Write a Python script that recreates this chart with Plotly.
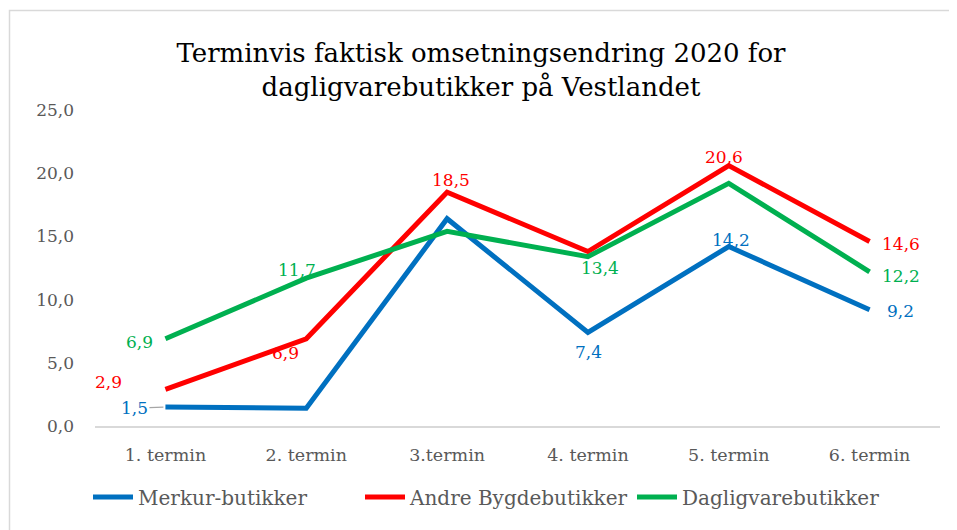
import plotly.graph_objects as go

categories = ["1. termin", "2. termin", "3.termin", "4. termin", "5. termin", "6. termin"]
merkur = [1.5, 1.4, 16.4, 7.4, 14.2, 9.2]
andre = [2.9, 6.9, 18.5, 13.8, 20.6, 14.6]
dagligvare = [6.9, 11.7, 15.4, 13.4, 19.2, 12.2]
series_names = ["Merkur-butikker", "Andre Bygdebutikker", "Dagligvarebutikker"]
title_text = "Terminvis faktisk omsetningsendring 2020 for<br>dagligvarebutikker på Vestlandet"

colors = ["#0070C0", "#FF0000", "#00B050"]
# label offsets in pixels (dx, dy-up); None = no label
label_offsets = [
    ["leader", None, None, (1, -20), (2, 7), (31, -1)],
    [(-57, 7), (-21, -14), (4, 12), None, (-5, 9), (31, -3)],
    [(-26, -3), (-9, 8), None, (12, -11), None, (31, -4)],
]

FONT = "DejaVu Serif"
PAGE_OFF = 8  # body margin of the host page
fig = go.Figure()
annotations = []
for name, vals, col, offs in zip(series_names, [merkur, andre, dagligvare], colors, label_offsets):
    fig.add_trace(go.Scatter(x=categories, y=vals, name=name, mode="lines",
                             line=dict(color=col, width=5)))
    for i, (c, v, o) in enumerate(zip(categories, vals, offs)):
        if o is None:
            continue
        txt = f"{v:.1f}".replace(".", ",")
        if o == "leader":
            annotations.append(dict(x=c, y=v, xref="x", yref="y", text=txt, showarrow=True,
                                    ax=-31, ay=1, arrowhead=0, arrowwidth=1.2, arrowcolor="#A6A6A6",
                                    standoff=2, font=dict(family=FONT, size=17, color=col)))
        else:
            annotations.append(dict(x=c, y=v, xref="x", yref="y", text=txt, showarrow=False,
                                    xshift=o[0], yshift=o[1],
                                    font=dict(family=FONT, size=17, color=col)))

W, H = 957 - PAGE_OFF, 530 - PAGE_OFF
L, T = 95 - PAGE_OFF, 110 - PAGE_OFF
PW, PH = 845, 316
fig.update_layout(
    width=W, height=H,
    margin=dict(l=L, r=W - L - PW, t=T, b=H - T - PH),
    paper_bgcolor="white", plot_bgcolor="white",
    separators=",.",
    title=dict(text=title_text, x=(481 - PAGE_OFF) / W, xref="container", xanchor="center",
               y=1 - (62 - PAGE_OFF) / H, yref="container", yanchor="top",
               font=dict(family=FONT, size=26, color="#000000")),
    xaxis=dict(type="category", range=[-0.5, 5.5], showline=True, linecolor="#D9D9D9", linewidth=1.5,
               showgrid=False, ticks="", ticklabelstandoff=12,
               tickfont=dict(family=FONT, size=17.5, color="#595959")),
    yaxis=dict(range=[0, 25], dtick=5, tickformat=".1f", showgrid=False, zeroline=False,
               showline=False, ticks="", ticklabelstandoff=20,
               tickfont=dict(family=FONT, size=17, color="#595959")),
    legend=dict(orientation="h", x=(88 - 95) / PW, xanchor="left",
                y=-(497 - 426) / PH, yanchor="middle", entrywidth=217, entrywidthmode="pixels",
                font=dict(family=FONT, size=20, color="#595959"), itemwidth=40),
    annotations=annotations,
    shapes=[dict(type="rect", xref="paper", yref="paper",
                 x0=(9.5 - 95) / PW, x1=(1000 - 95) / PW,
                 y0=-(560 - 426) / PH, y1=(426 - 10.5) / PH,
                 line=dict(color="#D9D9D9", width=1.5), layer="below")],
)

fig.write_html("out.html")
